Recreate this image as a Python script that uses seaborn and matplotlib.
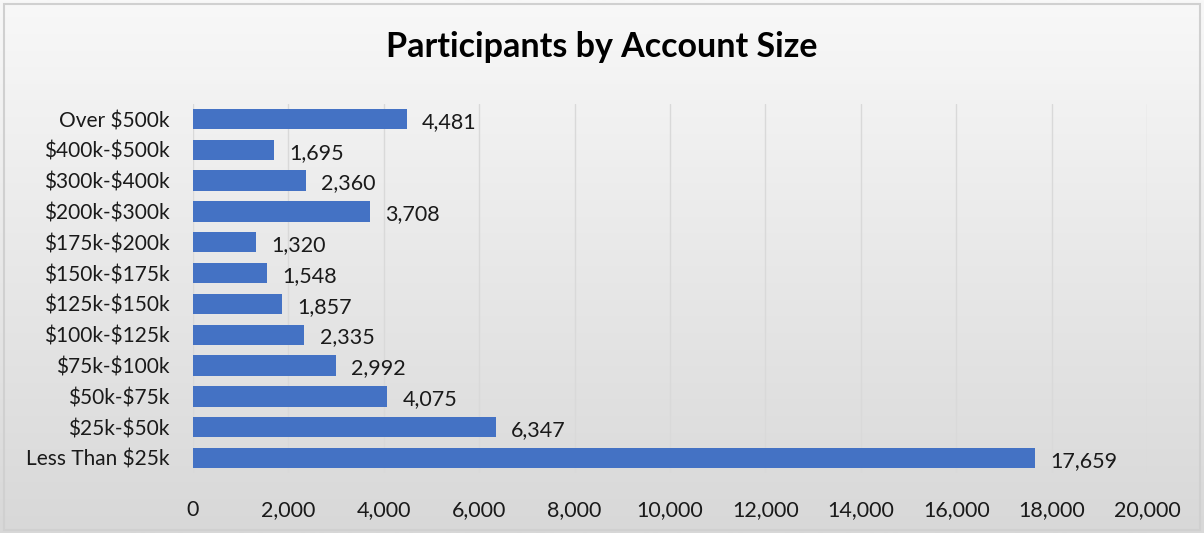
import numpy as np
import pandas as pd
import matplotlib
matplotlib.use('Agg')
import matplotlib.pyplot as plt
import matplotlib.ticker as mticker
from matplotlib.patches import Rectangle
import seaborn as sns

sns.set_theme(style='white')
plt.rcParams['font.family'] = ['Lato', 'DejaVu Sans']
plt.rcParams['text.parse_math'] = False

# ── 데이터
categories = ['Over $500k', '$400k-$500k', '$300k-$400k', '$200k-$300k',
              '$175k-$200k', '$150k-$175k', '$125k-$150k', '$100k-$125k',
              '$75k-$100k', '$50k-$75k', '$25k-$50k', 'Less Than $25k']
participants = [4481, 1695, 2360, 3708, 1320, 1548, 1857, 2335, 2992, 4075, 6347, 17659]
x_ticks = list(range(0, 20001, 2000))

df = pd.DataFrame({'size': categories, 'n': participants})

BAR_COLOR = '#4472C4'
TXT = '#1a1a1a'

fig = plt.figure(figsize=(12.04, 5.33), dpi=100)

# 배경 그라데이션
bg = fig.add_axes([0, 0, 1, 1], zorder=-10)
grad = np.linspace(0, 1, 256).reshape(-1, 1)
bg.imshow(grad, aspect='auto', cmap=matplotlib.colors.LinearSegmentedColormap.from_list(
    'bg', ['#f8f8f8', '#d8d8d8']), extent=[0, 1, 0, 1], origin='upper')
bg.add_patch(Rectangle((4 / 1204, 3 / 533), 1196 / 1204, 526 / 533, transform=bg.transAxes,
                       fill=False, edgecolor='#d0d0d0', lw=1.5))
bg.set_xlim(0, 1); bg.set_ylim(0, 1)
bg.axis('off')

ax = fig.add_axes([193 / 1204, 1 - 473.4 / 533, (1147 - 193) / 1204, (473.4 - 103.6) / 533])
ax.patch.set_alpha(0)
sns.barplot(data=df, y='size', x='n', orient='h', color=BAR_COLOR, width=0.66,
            saturation=1, edgecolor='none', linewidth=0, ax=ax, zorder=3)

for p, v in zip(ax.patches, participants):
    ax.annotate(f'{v:,}', (p.get_width(), p.get_y() + p.get_height() / 2),
                xytext=(11, -2), textcoords='offset points', va='center', ha='left',
                fontsize=15.5, color=TXT)

ax.set_xlim(0, 20000)
ax.set_xticks(x_ticks)
ax.xaxis.set_major_formatter(mticker.FuncFormatter(lambda x, _: f'{x:,.0f}'))
ax.grid(axis='x', color='#d9d9d9', lw=1, zorder=0)
ax.set_xlabel(''); ax.set_ylabel('')
for s in ax.spines.values():
    s.set_visible(False)
ax.tick_params(axis='x', labelsize=15.5, pad=19, length=0, colors=TXT)
ax.tick_params(axis='y', labelsize=15, pad=17, length=0, colors=TXT)

fig.text(0.5, 1 - 47 / 533, 'Participants by Account Size', ha='center', va='center',
         fontsize=24.5, fontweight='bold', color='#000000')

plt.savefig('out.png', dpi=100)
plt.close()
